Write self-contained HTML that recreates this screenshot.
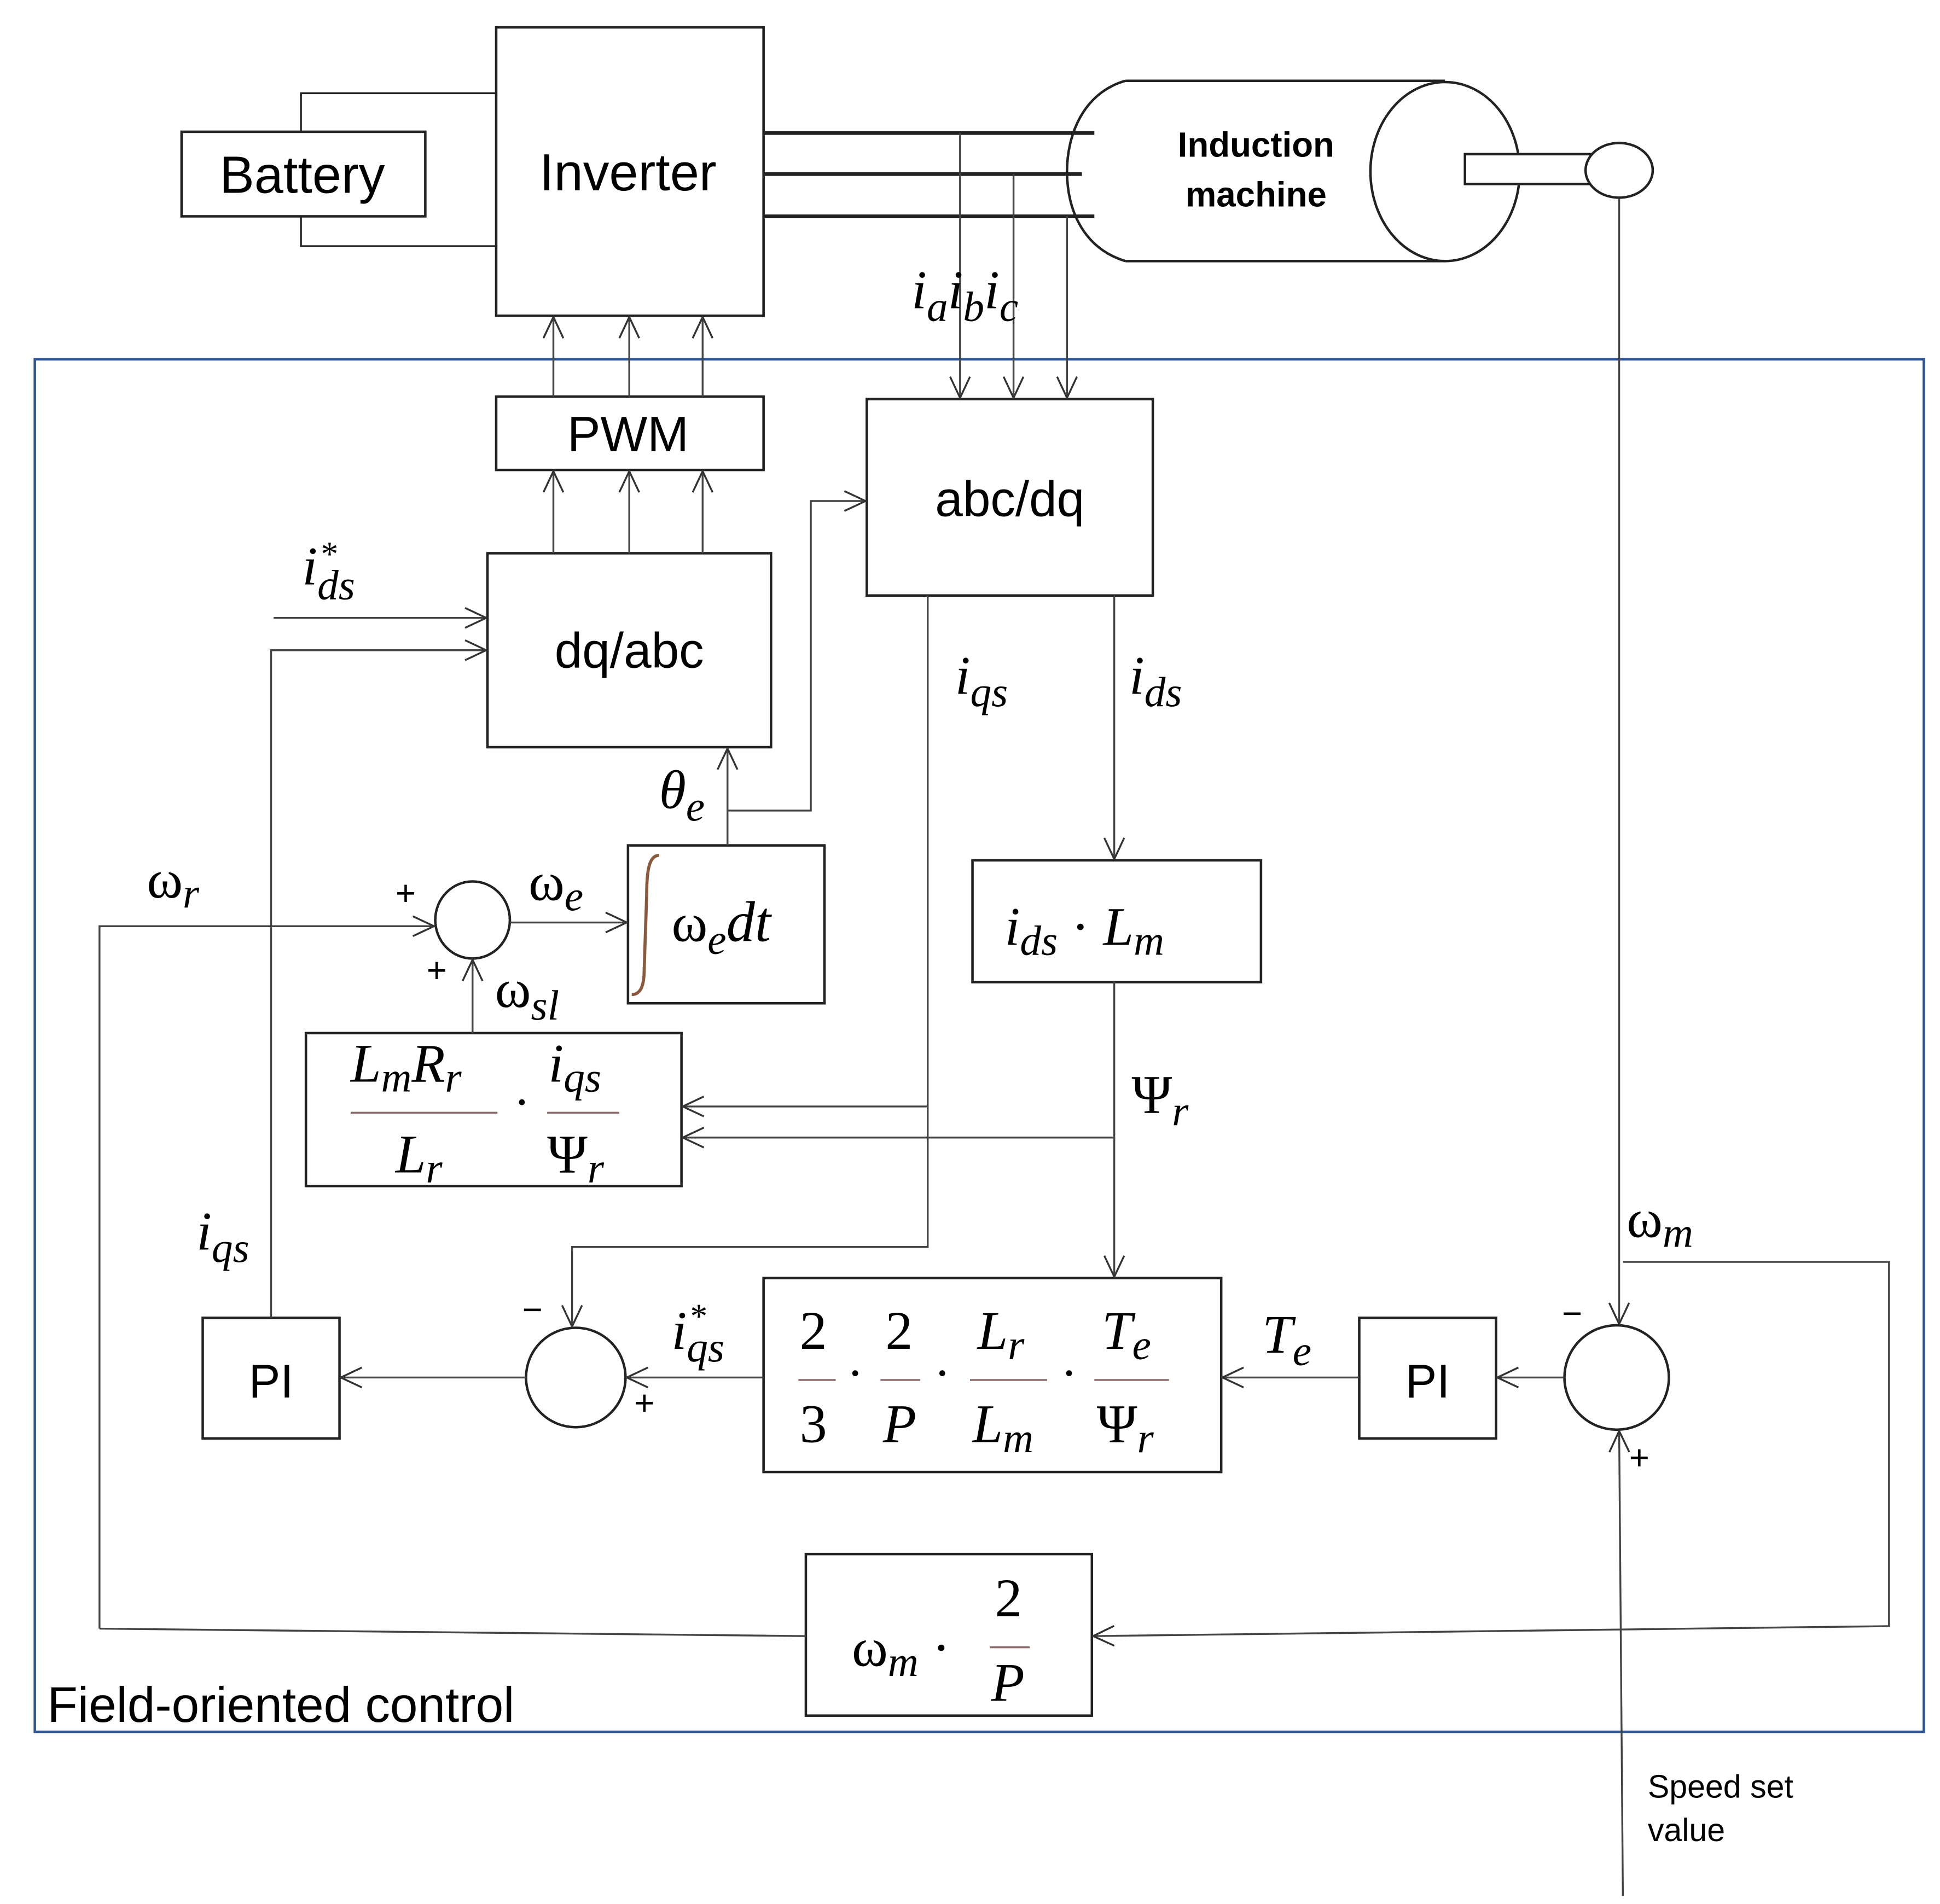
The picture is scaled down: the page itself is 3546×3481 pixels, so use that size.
<!DOCTYPE html>
<html><head><meta charset="utf-8"><style>
html,body{margin:0;padding:0;background:#fff;}
svg{display:block;}
.s{font-family:"Liberation Sans",sans-serif;fill:#000;}
.m{font-family:"Liberation Serif",serif;font-style:italic;fill:#000;}
.g{font-family:"Liberation Serif",serif;fill:#000;}
</style></head><body>
<svg width="3546" height="3481" viewBox="0 0 1560 1531.5" preserveAspectRatio="none" xmlns="http://www.w3.org/2000/svg">
<defs>
<marker id="a" viewBox="0 0 20 20" refX="19" refY="10" markerWidth="20" markerHeight="20" markerUnits="userSpaceOnUse" orient="auto">
<path d="M2,2 L19,10 L2,18" fill="none" stroke="#333" stroke-width="1.5"/>
</marker>
</defs>
<rect width="1560" height="1531.5" fill="#fff"/>
<g fill="none" stroke="#222" stroke-width="2">
<rect x="146" y="106" width="196" height="68"/>
<rect x="399" y="22" width="215" height="232"/>
<polyline points="242,106 242,75 399,75" stroke-width="1.5"/>
<polyline points="242,174 242,198 399,198" stroke-width="1.5"/>
<line x1="614" y1="107" x2="880" y2="107" stroke-width="3"/>
<line x1="614" y1="140" x2="870" y2="140" stroke-width="3"/>
<line x1="614" y1="174" x2="880" y2="174" stroke-width="3"/>
<path d="M905,65 L1162,65 M905,210 L1162,210 M905,65 C870,75 858,110 858,138 C858,170 872,200 905,210"/>
<ellipse cx="1162" cy="138" rx="60" ry="72"/>
<rect x="1178" y="124" width="104" height="24" fill="#fff"/>
<ellipse cx="1302" cy="137" rx="27" ry="22" fill="#fff"/>
<rect x="28" y="289" width="1519" height="1104" stroke="#2F5597" stroke-width="2"/>
<rect x="399" y="319" width="215" height="59"/>
<rect x="697" y="321" width="230" height="158"/>
<rect x="392" y="445" width="228" height="156"/>
<rect x="505" y="680" width="158" height="127"/>
<ellipse cx="380" cy="740" rx="30" ry="31"/>
<rect x="246" y="831" width="302" height="123"/>
<rect x="782" y="692" width="232" height="98"/>
<rect x="614" y="1028" width="368" height="156"/>
<ellipse cx="463" cy="1108" rx="40" ry="40"/>
<rect x="163" y="1060" width="110" height="97"/>
<rect x="1093" y="1060" width="110" height="97"/>
<ellipse cx="1300" cy="1108" rx="42" ry="42"/>
<rect x="648" y="1250" width="230" height="130"/>
</g>
<g fill="none" stroke="#444" stroke-width="1.5" marker-end="url(#a)">
<line x1="772" y1="107" x2="772" y2="320"/>
<line x1="815" y1="140" x2="815" y2="320"/>
<line x1="858" y1="174" x2="858" y2="320"/>
<line x1="445" y1="319" x2="445" y2="255"/>
<line x1="506" y1="319" x2="506" y2="255"/>
<line x1="565" y1="319" x2="565" y2="255"/>
<line x1="445" y1="445" x2="445" y2="379"/>
<line x1="506" y1="445" x2="506" y2="379"/>
<line x1="565" y1="445" x2="565" y2="379"/>
<line x1="220" y1="497" x2="391" y2="497"/>
<polyline points="218,1060 218,523 391,523"/>
<line x1="585" y1="680" x2="585" y2="602"/>
<polyline points="585,652 652,652 652,403 696,403"/>
<polyline points="80,1310 80,745 349,745"/>
<line x1="410" y1="742" x2="504" y2="742"/>
<line x1="380" y1="831" x2="380" y2="772"/>
<polyline points="746,479 746,890 549,890"/>
<polyline points="746,890 746,1003 460,1003 460,1067"/>
<line x1="896" y1="479" x2="896" y2="691"/>
<line x1="896" y1="790" x2="896" y2="1027"/>
<polyline points="896,915 549,915"/>
<line x1="614" y1="1108" x2="504" y2="1108"/>
<line x1="423" y1="1108" x2="274" y2="1108"/>
<line x1="1258" y1="1108" x2="1204" y2="1108"/>
<line x1="1093" y1="1108" x2="983" y2="1108"/>
<line x1="1302" y1="160" x2="1302" y2="1065"/>
<line x1="1305" y1="1525" x2="1302" y2="1151"/>
<polyline points="1305,1015 1519,1015 1519,1308 879,1316"/>
<line x1="648" y1="1316" x2="80" y2="1310" marker-end="none"/>
</g>
<text class="s" x="243" y="155" font-size="42" text-anchor="middle">Battery</text>
<text class="s" x="505" y="153" font-size="42" text-anchor="middle">Inverter</text>
<text class="s" x="1010" y="126" font-size="28" font-weight="bold" text-anchor="middle">Induction</text>
<text class="s" x="1010" y="166" font-size="28" font-weight="bold" text-anchor="middle">machine</text>
<text class="s" x="505" y="363" font-size="40" text-anchor="middle">PWM</text>
<text class="s" x="812" y="415" font-size="40" text-anchor="middle">abc/dq</text>
<text class="s" x="506" y="537" font-size="40" text-anchor="middle">dq/abc</text>
<text class="s" x="218" y="1124" font-size="38" text-anchor="middle">PI</text>
<text class="s" x="1148" y="1124" font-size="38" text-anchor="middle">PI</text>
<text class="s" x="38" y="1385" font-size="40">Field-oriented control</text>
<text class="s" x="1325" y="1446" font-size="26">Speed set</text>
<text class="s" x="1325" y="1481" font-size="26">value</text>
<g class="m" font-size="44">
<text x="733" y="248">i<tspan font-size="34" dy="10">a</tspan><tspan font-size="44" dy="-10">i</tspan><tspan font-size="34" dy="10">b</tspan><tspan font-size="44" dy="-10">i</tspan><tspan font-size="34" dy="10">c</tspan></text>
<text x="243" y="470">i<tspan font-size="34" dy="12">ds</tspan></text>
<text x="258" y="455" font-size="28" font-style="normal">*</text>
<text x="530" y="650">θ<tspan font-size="34" dy="10">e</tspan></text>
<text x="768" y="558">i<tspan font-size="34" dy="10">qs</tspan></text>
<text x="908" y="558">i<tspan font-size="34" dy="10">ds</tspan></text>
<text x="118" y="722"><tspan font-style="normal">ω</tspan><tspan font-size="34" dy="8">r</tspan></text>
<text x="425" y="724"><tspan font-style="normal">ω</tspan><tspan font-size="34" dy="8">e</tspan></text>
<text x="398" y="810"><tspan font-style="normal">ω</tspan><tspan font-size="34" dy="10">sl</tspan></text>
<text x="540" y="757"><tspan font-style="normal">ω</tspan><tspan font-size="34" dy="10">e</tspan><tspan font-size="46" dy="-10">dt</tspan></text>
<text x="808" y="760">i<tspan font-size="34" dy="8">ds</tspan><tspan font-style="normal" dy="-8"> · </tspan>L<tspan font-size="34" dy="8">m</tspan></text>
<text x="910" y="895"><tspan font-style="normal">Ψ</tspan><tspan font-size="34" dy="10">r</tspan></text>
<text x="158" y="1005">i<tspan font-size="34" dy="10">qs</tspan></text>
<text x="540" y="1085">i<tspan font-size="34" dy="10">qs</tspan></text>
<text x="555" y="1068" font-size="28" font-style="normal">*</text>
<text x="1015" y="1088">T<tspan font-size="34" dy="10">e</tspan></text>
<text x="1308" y="995"><tspan font-style="normal">ω</tspan><tspan font-size="34" dy="8">m</tspan></text>
<text x="282" y="870">L<tspan font-size="34" dy="8">m</tspan><tspan font-size="44" dy="-8">R</tspan><tspan font-size="34" dy="8">r</tspan></text>
<text x="318" y="943">L<tspan font-size="34" dy="8">r</tspan></text>
<text x="441" y="870">i<tspan font-size="34" dy="8">qs</tspan></text>
<text x="440" y="943"><tspan font-style="normal">Ψ</tspan><tspan font-size="34" dy="8">r</tspan></text>
<text x="643" y="1085" font-style="normal">2</text>
<text x="643" y="1160" font-style="normal">3</text>
<text x="712" y="1085" font-style="normal">2</text>
<text x="710" y="1160">P</text>
<text x="786" y="1085">L<tspan font-size="34" dy="8">r</tspan></text>
<text x="782" y="1160">L<tspan font-size="34" dy="8">m</tspan></text>
<text x="886" y="1085">T<tspan font-size="34" dy="8">e</tspan></text>
<text x="882" y="1160"><tspan font-style="normal">Ψ</tspan><tspan font-size="34" dy="8">r</tspan></text>
<text x="685" y="1340"><tspan font-style="normal">ω</tspan><tspan font-size="34" dy="8">m</tspan><tspan font-style="normal" dy="-8"> ·</tspan></text>
<text x="800" y="1300" font-style="normal">2</text>
<text x="797" y="1368">P</text>
</g>
<g stroke="#8a6a6a" stroke-width="1.5">
<line x1="282" y1="895" x2="400" y2="895"/>
<line x1="440" y1="895" x2="498" y2="895"/>
<line x1="642" y1="1110" x2="672" y2="1110"/>
<line x1="708" y1="1110" x2="740" y2="1110"/>
<line x1="780" y1="1110" x2="842" y2="1110"/>
<line x1="880" y1="1110" x2="940" y2="1110"/>
<line x1="796" y1="1325" x2="828" y2="1325"/>
</g>
<g class="g" font-size="40">
<text x="413" y="900">·</text>
<text x="681" y="1118">·</text>
<text x="751" y="1118">·</text>
<text x="853" y="1118">·</text>
</g>
<path d="M530,688 C522,688 520,700 520,720 L518,780 C518,795 514,800 508,800" fill="none" stroke="#8a5a40" stroke-width="2.5"/>
<g class="s" font-size="28">
<text x="318" y="728">+</text>
<text x="343" y="790">+</text>
<text x="420" y="1063">−</text>
<text x="510" y="1138">+</text>
<text x="1256" y="1066">−</text>
<text x="1310" y="1182">+</text>
</g>
</svg>
</body></html>
